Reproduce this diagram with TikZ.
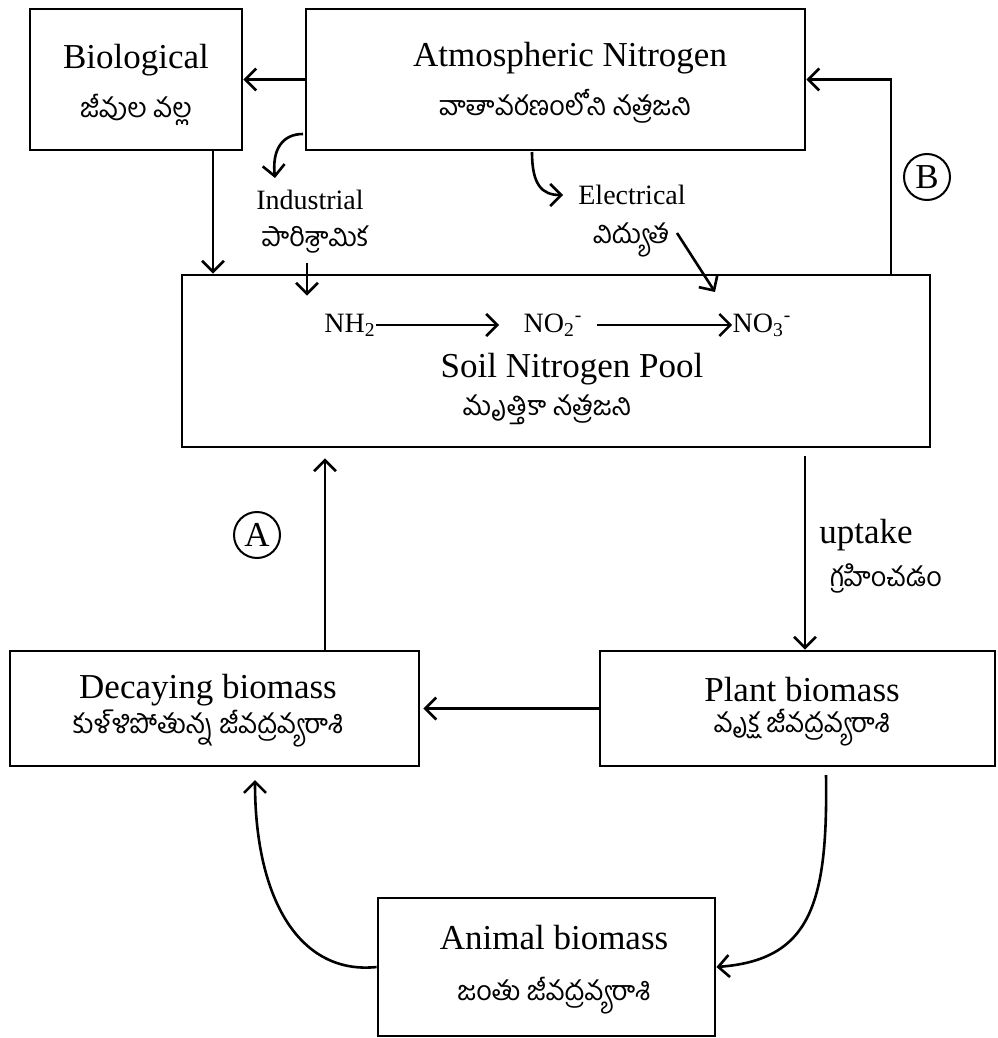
\documentclass[tikz,border=0pt]{standalone}
\usepackage{fontspec}
\setmainfont{Liberation Serif}
\newfontfamily\tel[Script=Telugu]{Hind Guntur}
\usetikzlibrary{arrows.meta,fit,calc}
\begin{document}
\begin{tikzpicture}[x=0.5pt,y=-0.5pt,
 box/.style={draw, line width=1.4pt, inner sep=0pt},
 arr/.style={line width=1.3pt, -{Straight Barb[length=5.5pt,width=11pt,line width=1.3pt]}},
 big/.style={font=\fontsize{17.5}{20}\selectfont, inner sep=0pt},
 small/.style={font=\fontsize{14}{16}\selectfont, inner sep=0pt},
 tl/.style={font=\tel\fontsize{13.5}{15}\selectfont, inner sep=0pt},
 circ/.style={draw, circle, line width=1pt, minimum size=23pt, inner sep=0pt, font=\fontsize{17.5}{20}\selectfont}]
\useasboundingbox (0,0) rectangle (997,1038);
% boxes
\node[box, fit={(30,9) (242,150)}] (bio) {};
\node[box, fit={(306,9) (805,150)}] (atm) {};
\node[box, fit={(182,275) (930,447)}] (soil) {};
\node[box, fit={(10,651) (419,766)}] (decay) {};
\node[box, fit={(600,651) (995,766)}] (plant) {};
\node[box, fit={(378,898) (715,1036)}] (animal) {};
% texts
\node[big] (tbio) at (136,60) {Biological};
\node[tl] (tbio2) at (136,110) {జీవుల వల్ల};
\node[big] (tatm) at (570,58) {Atmospheric Nitrogen};
\node[tl] (tatm2) at (565,106) {వాతావరణంలోని నత్రజని};
\node[small] (tind) at (310,200) {Industrial};
\node[tl] (tind2) at (315,240) {పారిశ్రామిక};
\node[small] (tele) at (632,195) {Electrical};
\node[tl] (tele2) at (631,240) {విద్యుత};
\node[small] (nh) at (350,325) {NH\textsubscript{2}};
\node[small] (no2) at (553,325) {NO\textsubscript{2}\textsuperscript{-}};
\node[small] (no3) at (762,325) {NO\textsubscript{3}\textsuperscript{-}};
\node[big] (tsoil) at (572,369) {Soil Nitrogen Pool};
\node[tl] (tsoil2) at (547,410) {మృత్తికా నత్రజని};
\node[circ] (A) at (257,535) {A};
\node[circ] (B) at (927,177) {B};
\node[big] (tup) at (866,535) {uptake};
\node[tl] (tup2) at (886,578) {గ్రహించడం};
\node[big] (tdec) at (208,690) {Decaying biomass};
\node[tl] (tdec2) at (208,728) {కుళ్ళిపోతున్న జీవద్రవ్యరాశి};
\node[big] (tpl) at (802,690) {Plant biomass};
\node[tl] (tpl2) at (802,728) {వృక్ష జీవద్రవ్యరాశి};
\node[big] (tan) at (554,938) {Animal biomass};
\node[tl] (tan2) at (554,996) {జంతు జీవద్రవ్యరాశి};
% helper coordinates
\coordinate (x213) at (213,0);
\coordinate (x307) at (307,0);
\coordinate (x891) at (891,0);
\coordinate (x325) at (325,0);
\coordinate (x805) at (805,0);
\coordinate (indS) at (303,134);
\coordinate (indE) at (275,178);
\coordinate (eleS) at (532,152);
\coordinate (eleE) at (563,195);
\coordinate (ele2S) at (677,233);
\coordinate (ele2E) at (715,292);
\coordinate (ind2S) at (307,263);
% connectors
\draw[arr] (atm.west) -- (bio.east);
\draw[arr] (bio.south -| x213) -- (soil.north -| x213);
\draw[arr] (indS) .. controls (282,134) and (272,150) .. (indE);
\draw[arr] (ind2S) -- ($(soil.north -| x307)+(0,22)$);
\draw[arr] (eleS) .. controls (532,185) and (542,195) .. (eleE);
\draw[arr] (ele2S) -- (ele2E);
\draw[arr] (soil.north -| x891) |- (atm.east);
\draw[arr] (nh.east) -- (499,325);
\draw[arr] (597,325) -- (no3.west);
\draw[arr, shorten >=5pt] (decay.north -| x325) -- (soil.south -| x325);
\draw[arr, shorten <=4pt] (soil.south -| x805) -- (plant.north -| x805);
\draw[arr, shorten >=1.5pt] (plant.west) -- (plant.west -| decay.east);
\draw[arr] (826,775) .. controls (828,905) and (810,960) .. (animal.east);
\draw[arr] (animal.west) .. controls (300,975) and (255,900) .. (255,780);
\end{tikzpicture}
\end{document}
